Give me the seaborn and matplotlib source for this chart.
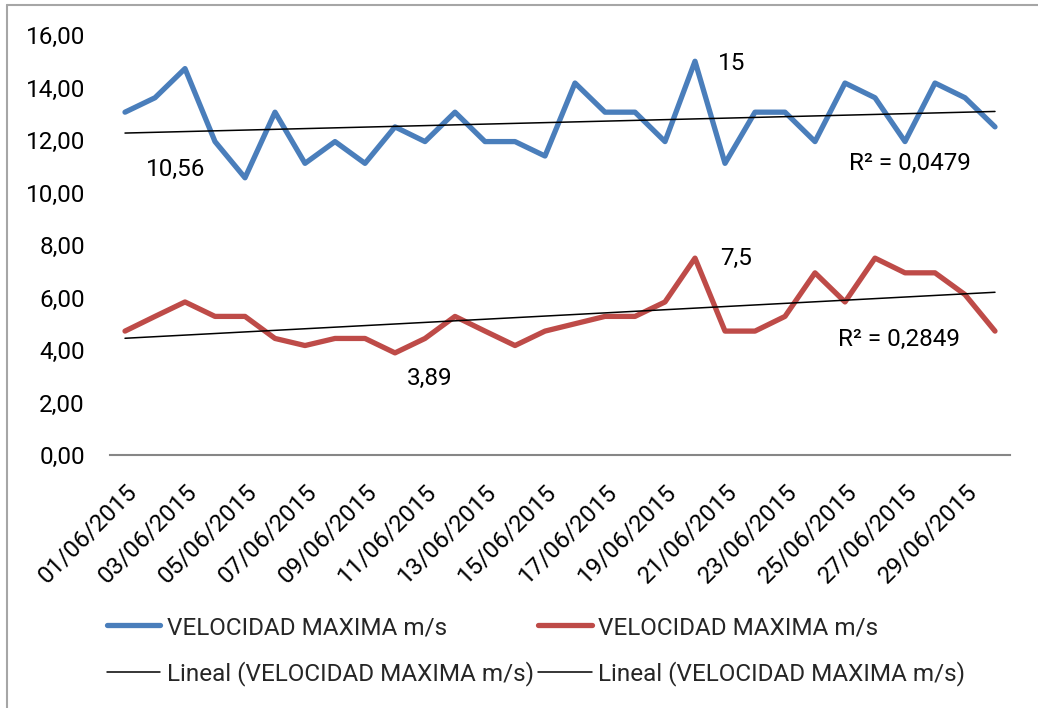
import numpy as np
import pandas as pd
import seaborn as sns
import matplotlib.pyplot as plt
from matplotlib.lines import Line2D

# daily max wind speed, June 2015
dates = [f"{d:02d}/06/2015" for d in range(1, 31)]
vel_alta = [13.06, 13.61, 14.72, 11.94, 10.56, 13.06, 11.11, 11.94, 11.11, 12.50,
            11.94, 13.06, 11.94, 11.94, 11.39, 14.17, 13.06, 13.06, 11.94, 15.00,
            11.11, 13.06, 13.06, 11.94, 14.17, 13.61, 11.94, 14.17, 13.61, 12.50]
vel_baja = [4.72, 5.28, 5.83, 5.28, 5.28, 4.44, 4.17, 4.44, 4.44, 3.89,
            4.44, 5.28, 4.72, 4.17, 4.72, 5.00, 5.28, 5.28, 5.83, 7.50,
            4.72, 4.72, 5.28, 6.94, 5.83, 7.50, 6.94, 6.94, 6.11, 4.72]
y_ticks = [0, 2, 4, 6, 8, 10, 12, 14, 16]

df = pd.DataFrame({"dia": np.arange(len(dates)), "alta": vel_alta, "baja": vel_baja})

sns.set_theme(style="white")
plt.rcParams['font.family'] = ['Roboto', 'DejaVu Sans']

W, H = 1038, 708
fig = plt.figure(figsize=(W / 100, H / 100), dpi=100)
ax = fig.add_axes([110 / W, 1 - 455 / H, 900 / W, 420 / H])

blue = '#4A7EBB'
red = '#BE4B48'
lbl = 'VELOCIDAD MAXIMA m/s'
lbl_lin = 'Lineal (VELOCIDAD MAXIMA m/s)'

sns.lineplot(data=df, x="dia", y="alta", color=blue, lw=3.8, ax=ax, label=lbl)
sns.lineplot(data=df, x="dia", y="baja", color=red, lw=3.8, ax=ax, label=lbl)
sns.regplot(data=df, x="dia", y="alta", scatter=False, ci=None, color='black',
            line_kws={'lw': 1.1}, ax=ax, label=lbl_lin)
sns.regplot(data=df, x="dia", y="baja", scatter=False, ci=None, color='black',
            line_kws={'lw': 1.1}, ax=ax, label=lbl_lin)

ax.set_xlim(-0.5, len(dates) - 0.5)
ax.set_ylim(0, 16)
ax.set_yticks(y_ticks)
ax.set_yticklabels([f"{v:.2f}".replace('.', ',') for v in y_ticks])
ax.set_xticks(df["dia"][::2])
ax.set_xticklabels(dates[::2], rotation=45, ha='right', va='top', rotation_mode='anchor')
ax.tick_params(axis='both', length=0, labelsize=17.5, colors='black')
ax.tick_params(axis='y', pad=18)
ax.tick_params(axis='x', pad=18)
ax.set_xlabel('')
ax.set_ylabel('')
for s in ['top', 'right', 'left']:
    ax.spines[s].set_visible(False)
ax.spines['bottom'].set_color('#868686')
ax.spines['bottom'].set_linewidth(1.5)

# text labels
notas = [(1.7, 10.86, '10,56'), (20.23, 14.93, '15'), (26.17, 11.12, 'R² = 0,0479'),
         (20.37, 7.5, '7,5'), (25.8, 4.42, 'R² = 0,2849'), (10.17, 2.9, '3,89')]
for x, y, t in notas:
    ax.text(x, y, t, ha='center', va='center', fontsize=17.5, color='black')

lines = ax.get_lines()
handles = [lines[0], lines[2], lines[1], lines[3]]
labels = [lbl, lbl_lin, lbl, lbl_lin]
ax.legend(handles, labels, ncol=2, loc='upper left', bbox_to_anchor=(107 / W, 1 - 616 / H),
          bbox_transform=fig.transFigure, frameon=False, fontsize=17.5,
          handlelength=2.2, handletextpad=0.25, columnspacing=0.2, labelspacing=0.9,
          borderaxespad=0, borderpad=0)

# chart area border (left and top visible)
fig.add_artist(Line2D([7 / W, 7 / W], [0, 1 - 5 / H], color='#A6A6A6', lw=1.5))
fig.add_artist(Line2D([7 / W, 1], [1 - 5 / H, 1 - 5 / H], color='#A6A6A6', lw=1.5))

plt.savefig("out.png", dpi=100, facecolor='w')
